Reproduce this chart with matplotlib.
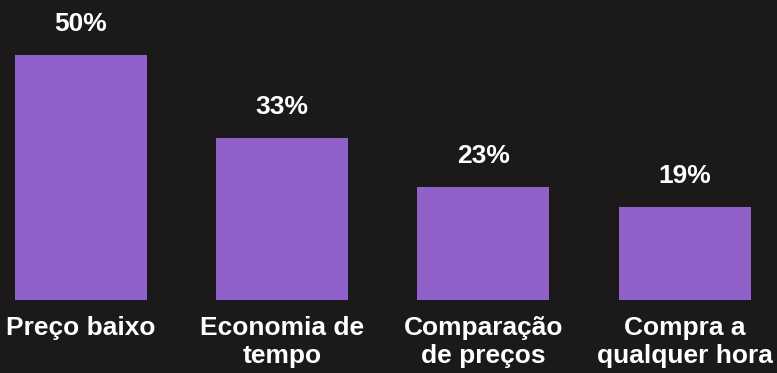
import matplotlib.pyplot as plt

categories = ["Preço baixo", "Economia de\ntempo", "Comparação\nde preços", "Compra a\nqualquer hora"]
values = [50, 33, 23, 19]
labels = ["50%", "33%", "23%", "19%"]

bg = "#1b1919"
bar_color = "#9061c9"

plt.rcParams['font.family'] = ['Liberation Sans', 'DejaVu Sans']

fig = plt.figure(figsize=(7.77, 3.73), dpi=100, facecolor=bg)
ax = fig.add_axes([0, 0, 1, 1])
ax.set_facecolor(bg)

pos = range(len(values))
ax.bar(pos, values, width=0.656, color=bar_color)

for i, (v, lab) in enumerate(zip(values, labels)):
    ax.annotate(lab, (i, v), xytext=(0, 17.5), textcoords='offset points',
                ha='center', va='baseline', color='white',
                fontsize=19, fontweight='bold')
    ax.annotate(categories[i], (i, 0), xytext=(0, -11.5), textcoords='offset points',
                ha='center', va='top', color='white', linespacing=1.2,
                fontsize=19, fontweight='bold')

ax.set_xlim(-81 / 201.2, (777 - 81) / 201.2)
ax.set_ylim(-73 / 4.9, 300 / 4.9)
ax.axis('off')

fig.savefig("out.png", dpi=100, facecolor=bg)
